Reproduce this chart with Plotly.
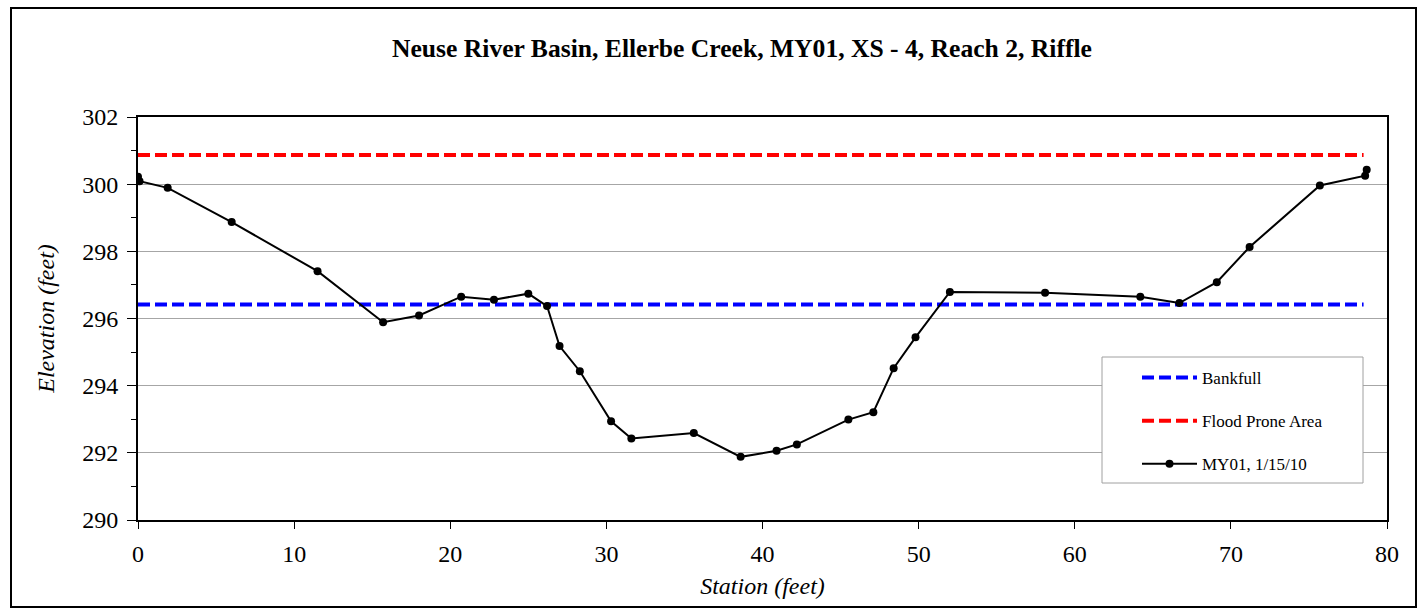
import plotly.graph_objects as go

# Surveyed cross-section (station / elevation in feet)
station = [0.0, 0.1, 1.9, 6.0, 11.5, 15.7, 18.0, 20.7, 22.8, 25.0, 26.2, 27.0,
           28.3, 30.3, 31.6, 35.6, 38.6, 40.9, 42.2, 45.5, 47.1, 48.4, 49.8,
           52.0, 58.1, 64.2, 66.7, 69.1, 71.2, 75.7, 78.6, 78.7]
elevation = [300.22, 300.09, 299.89, 298.87, 297.41, 295.89, 296.09, 296.65,
             296.56, 296.74, 296.37, 295.18, 294.43, 292.94, 292.43, 292.59,
             291.88, 292.06, 292.25, 292.99, 293.21, 294.52, 295.44, 296.79,
             296.77, 296.65, 296.46, 297.08, 298.13, 299.96, 300.25, 300.43]

# Reference elevations drawn across the section
level_station = [0.0, 78.5]
bankfull_elev = 296.42
flood_prone_elev = 300.87

x_range = [0, 80]
y_range = [290, 302]

W, H = 1427, 615
ML, MR, MT, MB = 138, 40, 117, 95
PW, PH = W - ML - MR, H - MT - MB
FONT = "Liberation Serif"


def px_x(px):
    return (px - ML) / PW


def px_y(py):
    return (H - MB - py) / PH


def serif(size, **kw):
    return dict(family=FONT, size=size, color="black", **kw)


fig = go.Figure()

fig.add_trace(go.Scatter(
    x=level_station, y=[bankfull_elev] * 2, mode="lines", name="Bankfull",
    line=dict(color="#0000ff", width=4, dash="12px,5px"), legendgroup="a"))
fig.add_trace(go.Scatter(
    x=level_station, y=[flood_prone_elev] * 2, mode="lines",
    name="Flood Prone Area",
    line=dict(color="#ff0000", width=4, dash="12px,5px"), legendgroup="b"))
fig.add_trace(go.Scatter(
    x=station, y=elevation, mode="lines+markers", name="MY01, 1/15/10",
    line=dict(color="black", width=2),
    marker=dict(color="black", size=8), legendgroup="c"))

shapes = [
    # outer chart frame
    dict(type="rect", xref="paper", yref="paper", layer="above",
         x0=px_x(11), x1=px_x(1416), y0=px_y(607), y1=px_y(8),
         line=dict(color="black", width=2)),
    # legend box
    dict(type="rect", xref="paper", yref="paper", layer="above",
         x0=px_x(1102), x1=px_x(1363), y0=px_y(483), y1=px_y(357),
         fillcolor="white", line=dict(color="#a0a0a0", width=1)),
]

fig.update_layout(
    width=W, height=H,
    margin=dict(l=ML, r=MR, t=MT, b=MB, pad=0),
    paper_bgcolor="white", plot_bgcolor="white",
    font=serif(24),
    title=dict(
        text="<b>Neuse River Basin, Ellerbe Creek, MY01, XS - 4, Reach 2, Riffle</b>",
        xref="container", yref="container", x=742 / W, y=1 - 48 / H,
        xanchor="center", yanchor="middle",
        font=serif(25.6)),
    xaxis=dict(
        range=x_range, dtick=10, tick0=0, showgrid=False, zeroline=False,
        showline=True, linecolor="black", linewidth=2, mirror=True,
        ticks="outside", ticklen=7, tickwidth=1, tickcolor="black",
        ticklabelstandoff=4,
        tickfont=serif(24),
        title=dict(text="Station (feet)", standoff=11,
                   font=serif(24, style="italic"))),
    yaxis=dict(
        range=y_range, dtick=2, tick0=290, showgrid=True, gridcolor="#a6a6a6",
        gridwidth=1, zeroline=False,
        showline=True, linecolor="black", linewidth=2, mirror=True,
        ticks="outside", ticklen=9, tickwidth=1, tickcolor="black",
        ticklabelstandoff=4,
        minor=dict(ticks="outside", ticklen=5, dtick=1, tick0=290,
                   tickcolor="black", showgrid=False),
        tickfont=serif(24),
        title=dict(text="Elevation (feet)", standoff=21,
                   font=serif(24, style="italic"))),
    # overlay axes that supply the inner half of the tick marks
    xaxis2=dict(overlaying="x", anchor="y", range=x_range, dtick=5, tick0=0,
                ticks="inside", ticklen=7, tickcolor="black",
                showticklabels=False, showgrid=False, zeroline=False,
                showline=False, side="bottom"),
    yaxis2=dict(overlaying="y", anchor="x", range=y_range, dtick=2, tick0=291,
                ticks="inside", ticklen=5, tickcolor="black",
                showticklabels=False, showgrid=False, zeroline=False,
                showline=False, side="left"),
    shapes=shapes,
    showlegend=True,
    legend=dict(
        x=px_x(1137), y=px_y(360), xanchor="left", yanchor="top",
        bgcolor="rgba(0,0,0,0)", borderwidth=0,
        font=serif(17),
        itemwidth=55, tracegroupgap=18, traceorder="grouped"),
)

fig.write_html("out.html")
